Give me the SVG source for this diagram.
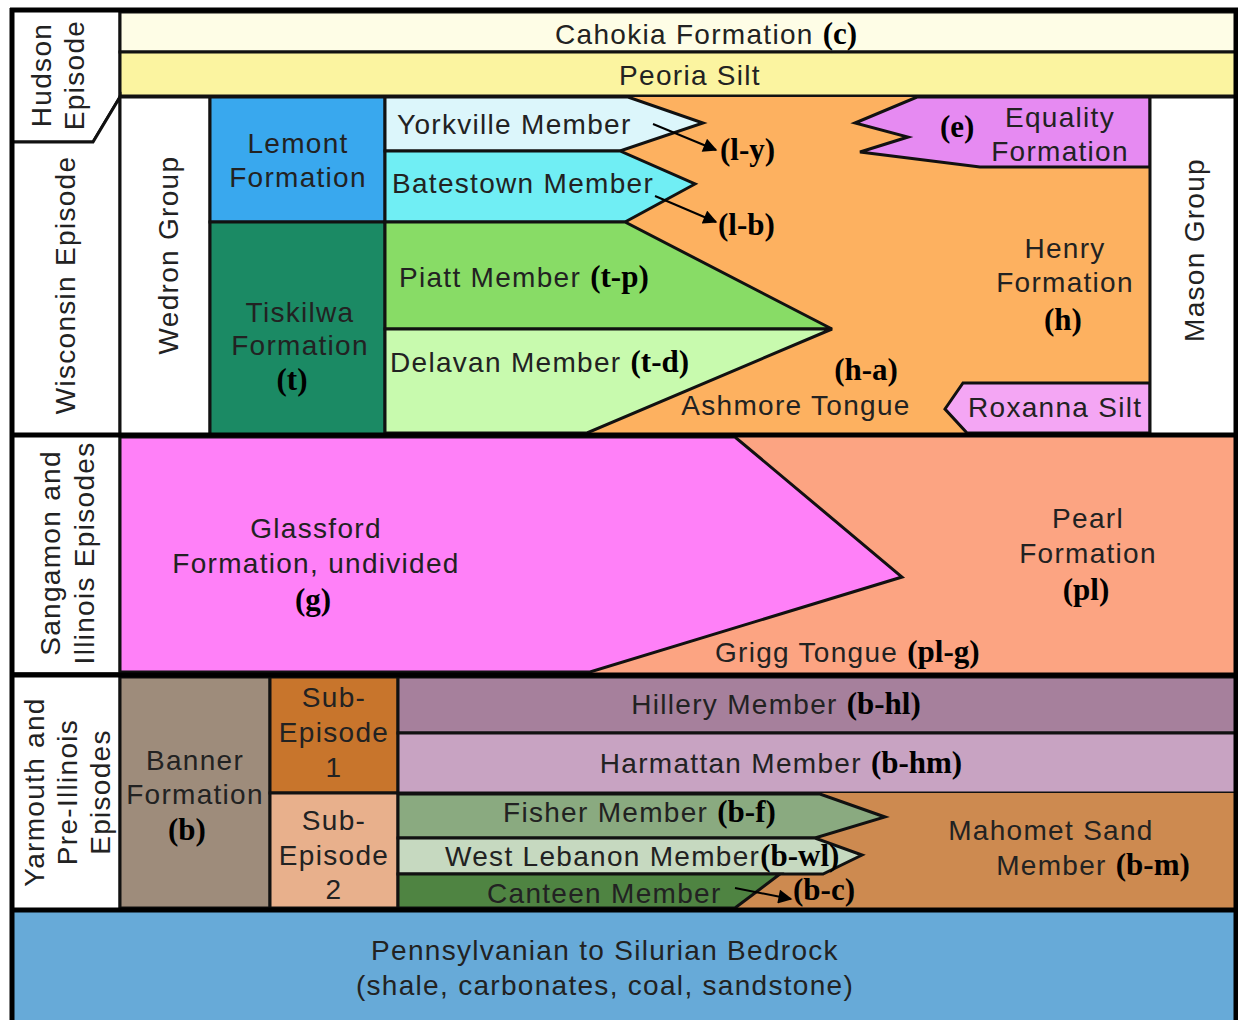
<svg xmlns="http://www.w3.org/2000/svg" width="1238" height="1020" viewBox="0 0 1238 1020">
<style>
.t{font-family:"Liberation Sans",Arial,sans-serif;font-size:28px;letter-spacing:1.3px;fill:#222}
.c{font-family:"Liberation Serif","Times New Roman",serif;font-size:31px;letter-spacing:0;font-weight:bold;fill:#000}
.m{text-anchor:middle}
.b{stroke:#111;stroke-width:3;stroke-linejoin:miter}
.k{stroke:#000;stroke-width:5;fill:none}
.ar{stroke:#000;stroke-width:2;fill:none;marker-end:url(#ah)}
</style>
<defs>
<marker id="ah" viewBox="0 0 10 10" refX="9" refY="5" markerWidth="7.5" markerHeight="7" orient="auto" markerUnits="strokeWidth"><path d="M0,0 L10,5 L0,10 z" fill="#000"/></marker>
</defs>
<rect width="1238" height="1020" fill="#fff"/>

<g id="hudson"><polygon points="12,10 120,10 120,97 93,142 12,142" fill="#fff" class="b"/>
<text class="t m" transform="translate(51,75) rotate(-90)">Hudson</text>
<text class="t m" transform="translate(84,75) rotate(-90)">Episode</text></g>
<g id="cahokia"><rect x="120" y="12" width="1118" height="40" fill="#fefde6" class="b"/>
<text x="555" y="44" class="t">Cahokia Formation <tspan class="c">(c)</tspan></text></g>
<g id="peoria"><rect x="120" y="52" width="1118" height="44" fill="#fbf4a0" class="b"/>
<text x="690" y="85" class="t m">Peoria Silt</text></g>

<g id="wisconsin"><polygon points="12,142 93,142 120,97 120,435 12,435" fill="#fff" class="b"/>
<text class="t m" transform="translate(75,285) rotate(-90)">Wisconsin Episode</text></g>
<g id="wedron"><rect x="120" y="97" width="90" height="338" fill="#fff" class="b"/>
<text class="t m" transform="translate(178,255) rotate(-90)">Wedron Group</text></g>
<g id="henry"><rect x="385" y="97" width="765" height="338" fill="#fdb160"/>
<text x="1065" y="258" class="t m">Henry</text><text x="1065" y="292" class="t m">Formation</text><text x="1063" y="330" class="c m">(h)</text>
<text x="866" y="380" class="c m">(h-a)</text><text x="796" y="415" class="t m">Ashmore Tongue</text></g>
<g id="lemont"><rect x="210" y="97" width="175" height="125" fill="#39a8ee" class="b"/>
<text x="298" y="153" class="t m">Lemont</text><text x="298" y="187" class="t m">Formation</text></g>
<g id="tiskilwa"><rect x="210" y="222" width="175" height="213" fill="#1b8a64" class="b"/>
<text x="300" y="322" class="t m">Tiskilwa</text><text x="300" y="355" class="t m">Formation</text><text x="292" y="390" class="c m">(t)</text></g>
<g id="yorkville"><polygon points="385,97 628,97 703,123 620,151 385,151" fill="#dcf6fb" class="b"/>
<text x="397" y="134" class="t">Yorkville Member</text></g>
<g id="batestown"><polygon points="385,151 620,151 695,184 625,222 385,222" fill="#70eef4" class="b"/>
<text x="392" y="193" class="t">Batestown Member</text></g>
<g id="piatt"><polygon points="385,222 625,222 832,329 385,329" fill="#88dc66" class="b"/>
<text x="399" y="287" class="t">Piatt Member <tspan class="c">(t-p)</tspan></text></g>
<g id="delavan"><polygon points="385,329 832,329 587,433 385,433" fill="#c8faae" class="b"/>
<text x="390" y="372" class="t">Delavan Member <tspan class="c">(t-d)</tspan></text></g>
<g id="equality"><polygon points="917,97 1150,97 1150,167 980,167 860,152 908,137 855,123" fill="#e68af2" class="b"/>
<text x="940" y="137" class="c">(e)</text>
<text x="1060" y="127" class="t m">Equality</text><text x="1060" y="161" class="t m">Formation</text></g>
<g id="roxanna"><polygon points="963,383 1150,383 1150,433 967,433 945,409" fill="#f4a6f4" class="b"/>
<text x="968" y="417" class="t">Roxanna Silt</text></g>
<g id="mason"><rect x="1150" y="97" width="88" height="338" fill="#fff" class="b"/>
<text class="t m" transform="translate(1204,250) rotate(-90)">Mason Group</text></g>

<g id="sangamon"><rect x="12" y="435" width="108" height="239" fill="#fff" class="b"/>
<text class="t m" transform="translate(60,553) rotate(-90)">Sangamon and</text>
<text class="t m" transform="translate(94,553) rotate(-90)">Illinois Episodes</text></g>
<g id="pearl"><rect x="120" y="435" width="1118" height="239" fill="#fca482"/>
<text x="1088" y="528" class="t m">Pearl</text><text x="1088" y="563" class="t m">Formation</text><text x="1086" y="600" class="c m">(pl)</text>
<text x="715" y="662" class="t">Grigg Tongue <tspan class="c">(pl-g)</tspan></text></g>
<g id="glassford"><polygon points="120,437 735,437 902,577 590,672 120,672" fill="#ff80f8" class="b"/>
<text x="316" y="538" class="t m">Glassford</text><text x="316" y="573" class="t m">Formation, undivided</text><text x="313" y="610" class="c m">(g)</text></g>

<g id="yarmouth"><rect x="12" y="674" width="108" height="236" fill="#fff" class="b"/>
<text class="t m" transform="translate(44,792) rotate(-90)">Yarmouth and</text>
<text class="t m" transform="translate(77,792) rotate(-90)">Pre-Illinois</text>
<text class="t m" transform="translate(110,792) rotate(-90)">Episodes</text></g>
<g id="banner"><rect x="120" y="677" width="150" height="231" fill="#9e8c7b" class="b"/>
<text x="195" y="770" class="t m">Banner</text><text x="195" y="804" class="t m">Formation</text><text x="187" y="840" class="c m">(b)</text></g>
<g id="sub1"><rect x="270" y="677" width="128" height="116" fill="#c8752c" class="b"/>
<text x="334" y="707" class="t m">Sub-</text><text x="334" y="742" class="t m">Episode</text><text x="334" y="777" class="t m">1</text></g>
<g id="sub2"><rect x="270" y="793" width="128" height="115" fill="#e8b08c" class="b"/>
<text x="334" y="830" class="t m">Sub-</text><text x="334" y="865" class="t m">Episode</text><text x="334" y="899" class="t m">2</text></g>
<g id="hillery"><rect x="398" y="677" width="840" height="56" fill="#a6809c" class="b"/>
<text x="776" y="714" class="t m">Hillery Member <tspan class="c">(b-hl)</tspan></text></g>
<g id="harmattan"><rect x="398" y="733" width="840" height="60" fill="#c8a3c2" class="b"/>
<text x="781" y="773" class="t m">Harmattan Member <tspan class="c">(b-hm)</tspan></text></g>
<g id="mahomet"><rect x="398" y="793" width="840" height="115" fill="#cd8a50"/>
<text x="1051" y="840" class="t m">Mahomet Sand</text><text x="1093" y="875" class="t m">Member <tspan class="c">(b-m)</tspan></text></g>
<g id="fisher"><polygon points="398,794 820,794 885,817 815,838 398,838" fill="#8aaa80" class="b"/>
<text x="503" y="822" class="t">Fisher Member <tspan class="c">(b-f)</tspan></text></g>
<g id="westlebanon"><polygon points="398,838 815,838 862,855 823,874 398,874" fill="#c6d9c0" class="b"/>
<text x="445" y="866" class="t">West Lebanon Member<tspan class="c">(b-wl)</tspan></text></g>
<g id="canteen"><polygon points="398,874 780,874 735,908 398,908" fill="#4f8442" class="b"/>
<text x="487" y="903" class="t">Canteen Member</text></g>
<text x="793" y="900" class="c">(b-c)</text>

<g id="bedrock"><rect x="12" y="910" width="1226" height="110" fill="#67aad8"/>
<text x="605" y="960" class="t m">Pennsylvanian to Silurian Bedrock</text>
<text x="605" y="995" class="t m">(shale, carbonates, coal, sandstone)</text></g>

<g id="frame">
<line x1="10" y1="10" x2="1238" y2="10" class="k"/>
<line x1="12" y1="8" x2="12" y2="1020" class="k"/>
<line x1="1236" y1="8" x2="1236" y2="1020" class="k"/>
<line x1="10" y1="435" x2="1238" y2="435" class="k"/>
<line x1="10" y1="675" x2="1238" y2="675" class="k"/>
<line x1="10" y1="910" x2="1238" y2="910" class="k"/>
</g>

<g id="connectors">
<line x1="653" y1="124" x2="716" y2="150" class="ar"/>
<line x1="655" y1="196" x2="716" y2="222" class="ar"/>
<line x1="735" y1="888" x2="791" y2="899" class="ar"/>
</g>
<text x="720" y="160" class="c">(l-y)</text>
<text x="718" y="235" class="c">(l-b)</text>
</svg>
